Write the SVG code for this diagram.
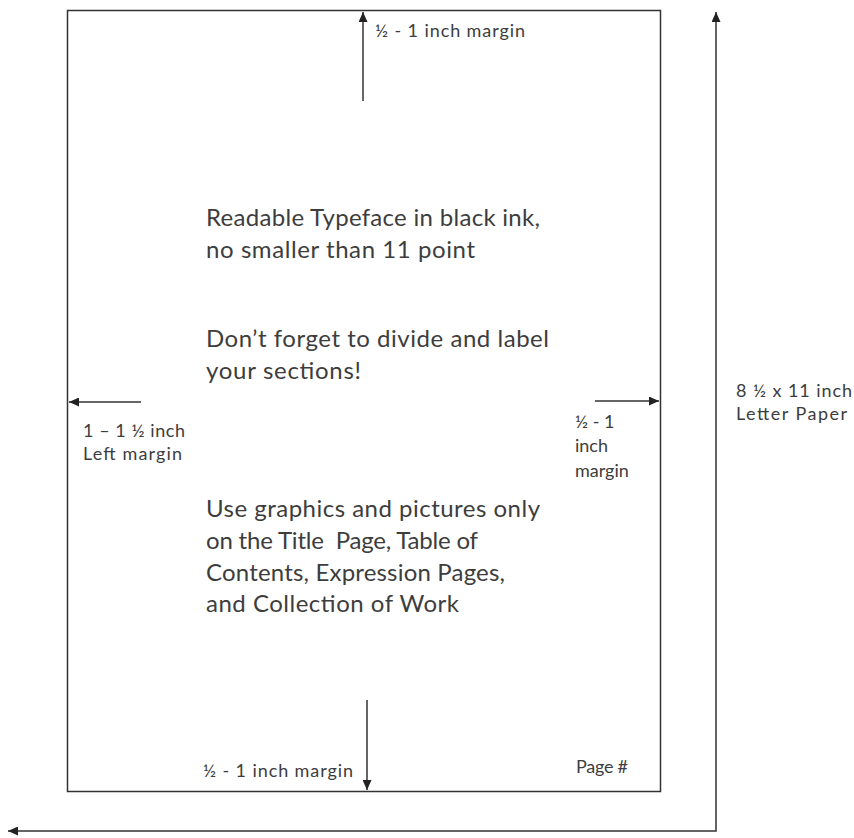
<svg xmlns="http://www.w3.org/2000/svg" width="854" height="838" viewBox="0 0 854 838">
<style>
  .txt { font-family: Lato, "Open Sans", "Liberation Sans", sans-serif; fill: #3d3d3d; }
  .main { font-size: 24px; }
  .lbl { font-size: 18px; }
  .ln { stroke: #333; stroke-width: 1.5; fill: none; }
</style>
<defs>
  <marker id="ah" markerUnits="userSpaceOnUse" markerWidth="11" markerHeight="9" refX="10" refY="4.5" orient="auto-start-reverse">
    <path d="M0,0 L10,4.5 L0,9 z" fill="#222"/>
  </marker>
</defs>
<rect x="0" y="0" width="854" height="838" fill="#ffffff"/>
<g id="page">
  <rect x="67.5" y="10.5" width="593" height="781" fill="none" stroke="#333" stroke-width="1.5"/>
</g>
<g id="connectors">
  <line class="ln" x1="363" y1="101" x2="363" y2="12" marker-end="url(#ah)"/>
  <line class="ln" x1="141" y1="402" x2="69" y2="402" marker-end="url(#ah)"/>
  <line class="ln" x1="595" y1="401" x2="659" y2="401" marker-end="url(#ah)"/>
  <line class="ln" x1="367" y1="700" x2="367" y2="790" marker-end="url(#ah)"/>
  <path class="ln" d="M716,12 L716,831 L8,831" marker-start="url(#ah)" marker-end="url(#ah)"/>
</g>
<g id="top-margin-label">
  <text class="txt lbl" x="375" y="37" textLength="150">½ - 1 inch margin</text>
</g>
<g id="left-margin-label">
  <text class="txt lbl" x="83" y="437" textLength="102">1 – 1 ½ inch</text>
  <text class="txt lbl" x="83" y="460" textLength="99">Left margin</text>
</g>
<g id="right-margin-label">
  <text class="txt lbl" x="575" y="428">½ - 1</text>
  <text class="txt lbl" x="575" y="452">inch</text>
  <text class="txt lbl" x="575" y="477">margin</text>
</g>
<g id="paper-label">
  <text class="txt lbl" x="736" y="397" textLength="116">8 ½ x 11 inch</text>
  <text class="txt lbl" x="736" y="420" textLength="111">Letter Paper</text>
</g>
<g id="bottom-margin-label">
  <text class="txt lbl" x="203" y="777" textLength="150">½ - 1 inch margin</text>
</g>
<g id="page-number">
  <text class="txt lbl" x="576" y="773" textLength="52">Page #</text>
</g>
<g id="typeface-note">
  <text class="txt main" x="206" y="226" textLength="334">Readable Typeface in black ink,</text>
  <text class="txt main" x="206" y="258" textLength="269">no smaller than 11 point</text>
</g>
<g id="sections-note">
  <text class="txt main" x="206" y="347" textLength="343">Don’t forget to divide and label</text>
  <text class="txt main" x="206" y="379" textLength="155">your sections!</text>
</g>
<g id="graphics-note">
  <text class="txt main" x="206" y="517" textLength="334">Use graphics and pictures only</text>
  <text class="txt main" x="206" y="549" textLength="272" xml:space="preserve">on the Title  Page, Table of</text>
  <text class="txt main" x="206" y="581" textLength="299">Contents, Expression Pages,</text>
  <text class="txt main" x="206" y="612" textLength="253">and Collection of Work</text>
</g>
</svg>
